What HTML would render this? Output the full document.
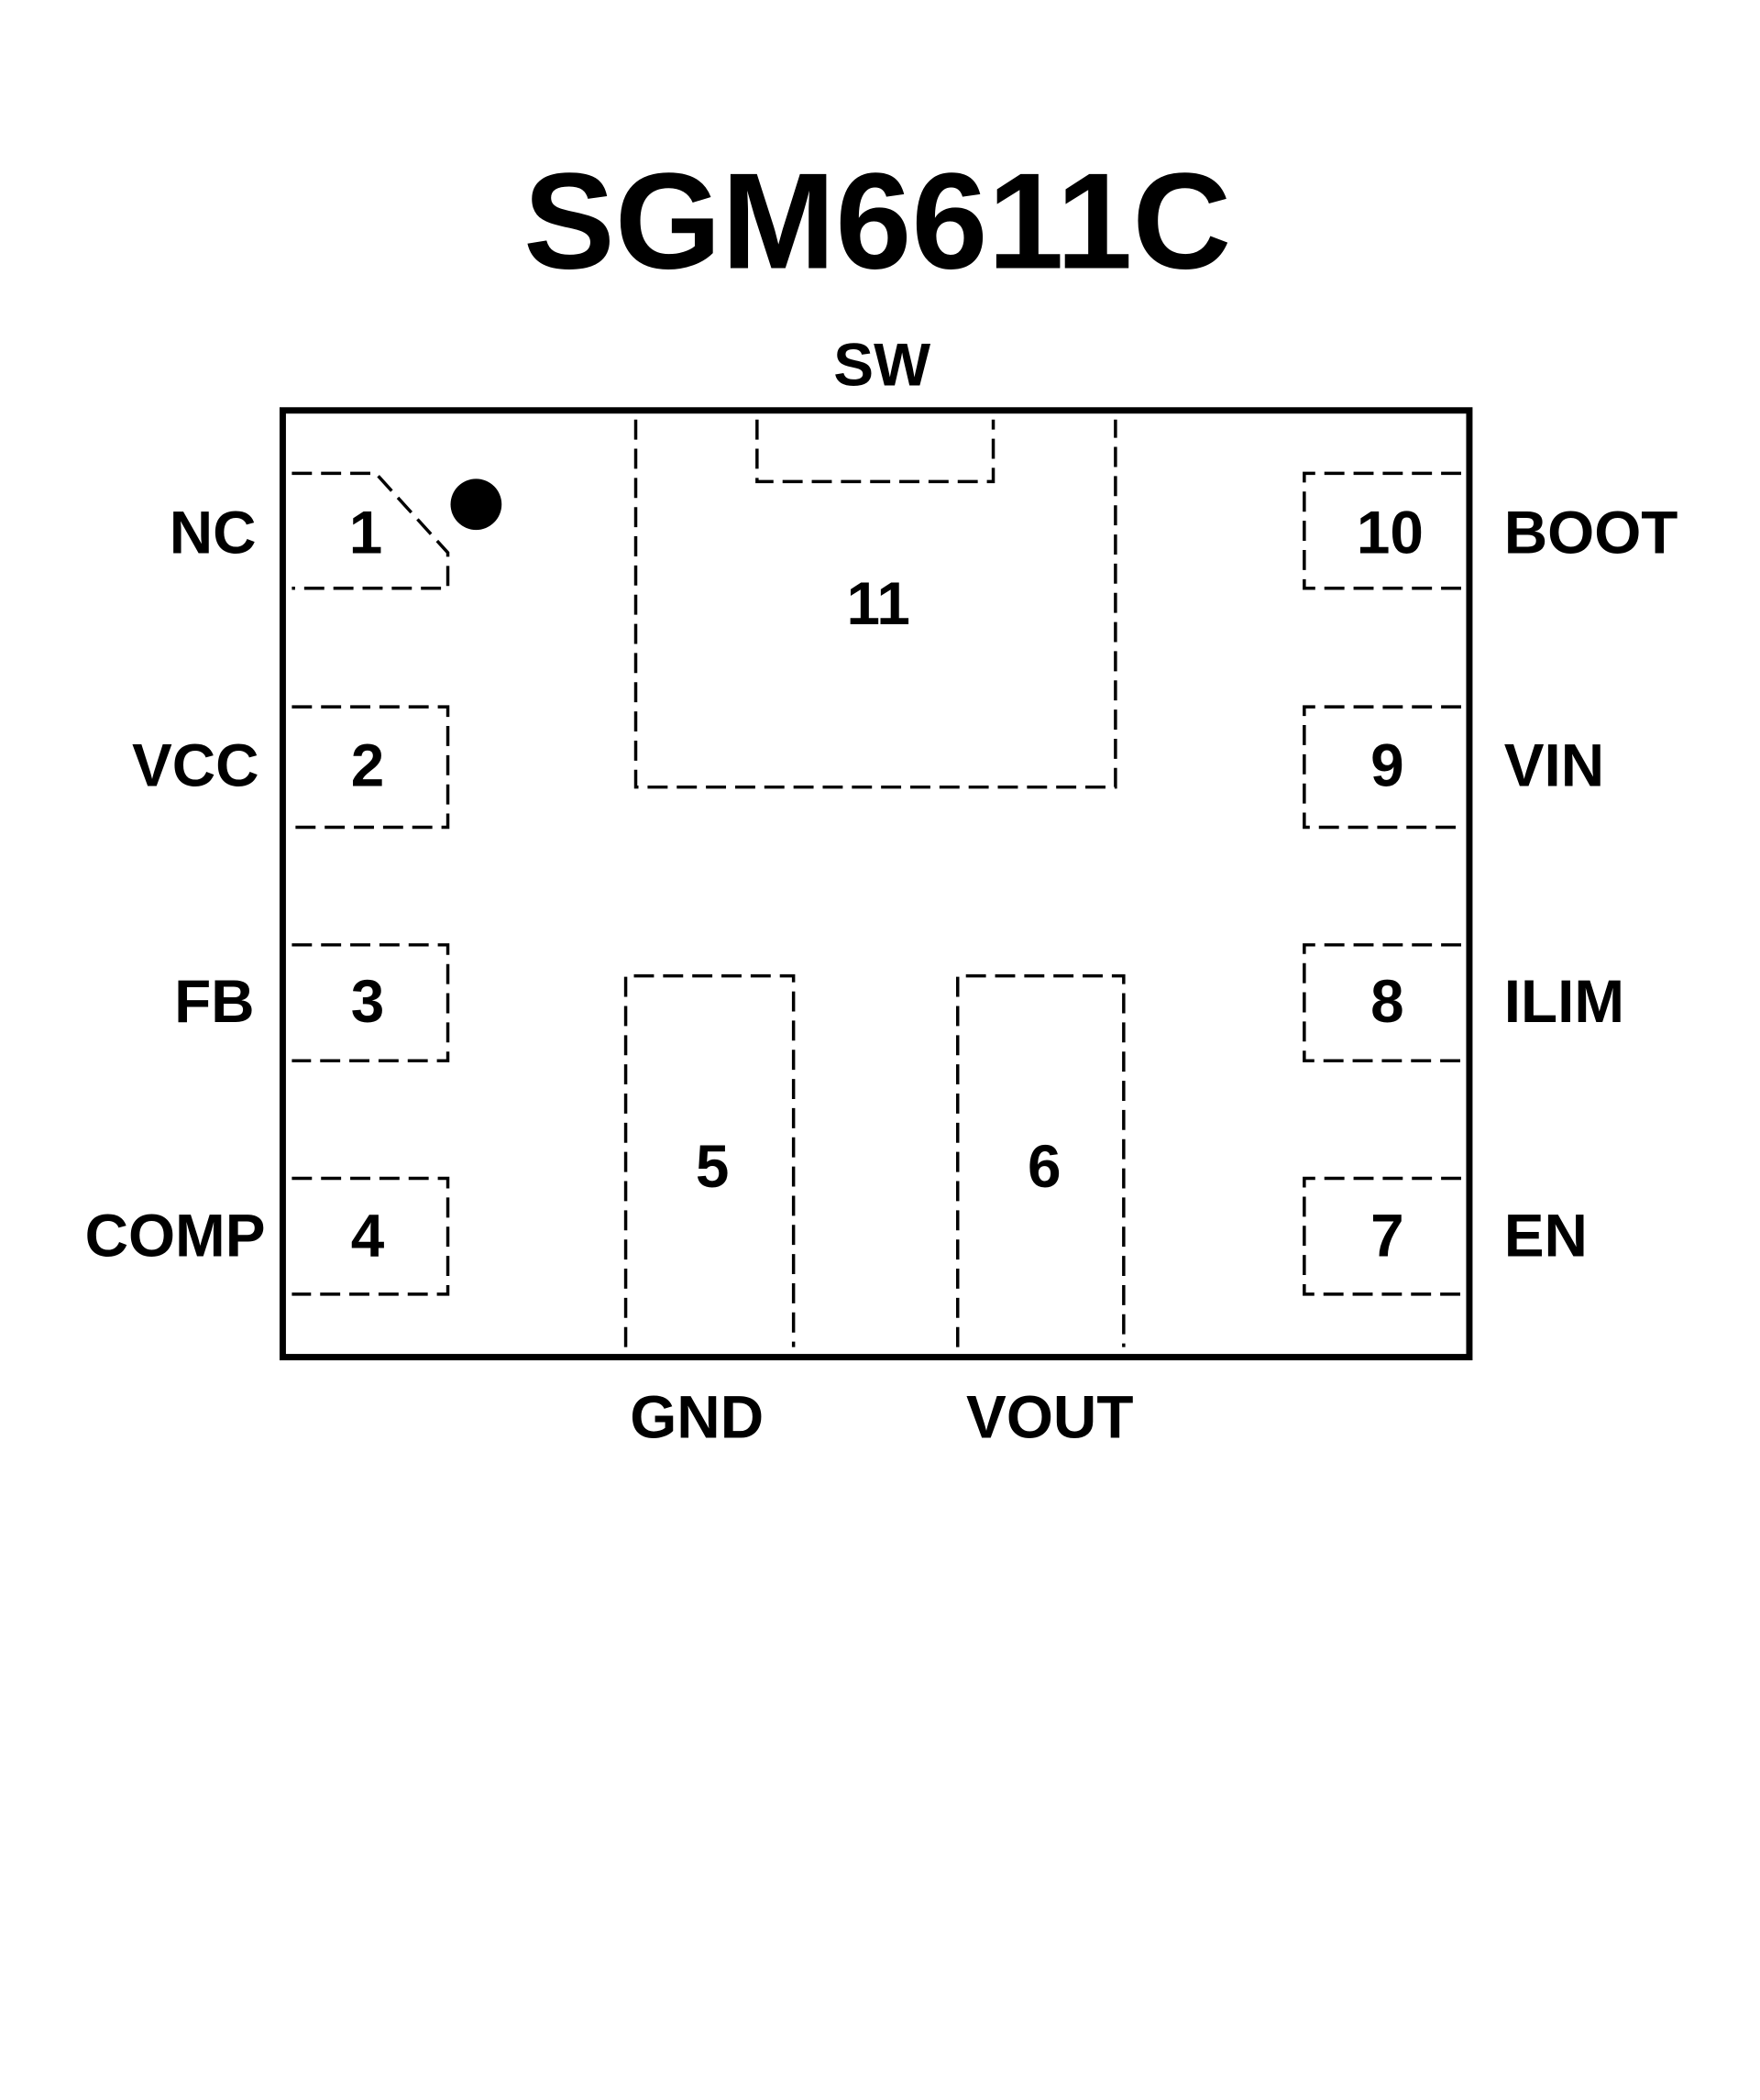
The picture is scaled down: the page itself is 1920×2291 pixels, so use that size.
<!DOCTYPE html>
<html><head><style>html,body{margin:0;padding:0;background:#fff;}svg{display:block}</style></head>
<body>
<svg width="1920" height="2291" viewBox="0 0 1920 2291" xmlns="http://www.w3.org/2000/svg">
<g transform="scale(0.995)">
<text x="962" y="294" text-anchor="middle" font-family="Liberation Sans, sans-serif" font-weight="bold" font-size="150" textLength="776" lengthAdjust="spacingAndGlyphs">SGM6611C</text>
<rect x="310" y="450" width="1301" height="1038" fill="none" stroke="#000" stroke-width="7"/>
<g fill="none" stroke="#000" stroke-width="3.5" stroke-dasharray="22 10">
<path d="M320 519 H412 L491 606 V645 H320"/>
<path d="M320 775 H491 V907 H320"/>
<path d="M320 1036 H491 V1163 H320"/>
<path d="M320 1292 H491 V1419 H320"/>
<path d="M1602 519 H1430 V645 H1602"/>
<path d="M1602 775 H1430 V907 H1602"/>
<path d="M1602 1036 H1430 V1163 H1602"/>
<path d="M1602 1292 H1430 V1419 H1602"/>
<path d="M697 460 V863 H1223 V460"/>
<path d="M830 460 V528 H1089 V460"/>
<path d="M686 1477 V1070 H870 V1477"/>
<path d="M1050 1477 V1070 H1232 V1477"/>
</g>
<circle cx="522" cy="553" r="28" fill="#000"/>
<g font-family="Liberation Sans, sans-serif" font-weight="bold" font-size="66" dominant-baseline="central">
<g text-anchor="middle">
<text x="401" y="584">1</text><text x="403" y="839">2</text><text x="403" y="1098">3</text><text x="403" y="1355">4</text>
<text x="1524" y="584">10</text><text x="1521" y="839">9</text><text x="1521" y="1098">8</text><text x="1521" y="1355">7</text>
<text x="963" y="662">11</text><text x="781" y="1279">5</text><text x="1145" y="1279">6</text>
<text x="967" y="400">SW</text><text x="764" y="1554">GND</text><text x="1151" y="1554">VOUT</text>
</g>
<g text-anchor="end">
<text x="281" y="584">NC</text><text x="284" y="839">VCC</text><text x="279" y="1098">FB</text><text x="291" y="1355">COMP</text>
</g>
<g text-anchor="start">
<text x="1649" y="584">BOOT</text><text x="1649" y="839">VIN</text><text x="1649" y="1098">ILIM</text><text x="1649" y="1355">EN</text>
</g>
</g>
</g>
</svg>
</body></html>
